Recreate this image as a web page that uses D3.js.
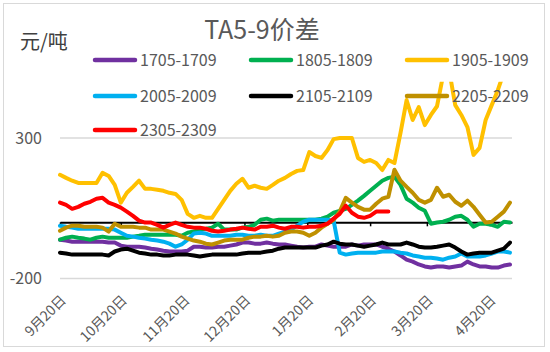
<!DOCTYPE html>
<html lang="zh">
<head>
<meta charset="utf-8">
<title>TA5-9价差</title>
<script src="https://d3js.org/d3.v7.min.js"></script>
<style>
  body { margin: 0; background: #fff; }
  text { font-family: "Noto Sans CJK SC", "Noto Sans", sans-serif; }
</style>
</head>
<body>
<div id="chart"></div>
<script>
// spreads, one reading every 3 days from 9月20日
var s1705 = [-62,-65,-69,-69,-69,-69,-69,-69,-72,-72,
  -83,-87,-87,-87,-90,-94,-97,-101,-104,-104,
  -104,-101,-87,-87,-90,-90,-87,-87,-83,-79,
  -72,-72,-76,-76,-72,-76,-79,-79,-83,-87,
  -90,-87,-87,-79,-83,-87,-87,-87,-79,-83,
  -79,-79,-79,-87,-94,-104,-118,-133,-140,-150,
  -157,-161,-157,-157,-161,-157,-154,-140,-150,-157,
  -157,-161,-161,-154,-150];
var s1805 = [-62,-55,-51,-55,-58,-62,-55,-51,-55,-55,
  -55,-55,-51,-48,-44,-44,-44,-44,-44,-44,
  -48,-37,-33,-26,-23,-19,-5,-26,-26,-26,
  -19,-16,-9,9,13,6,9,9,9,9,
  9,9,9,13,20,34,41,48,62,77,
  94,112,130,148,158,162,133,84,70,52,
  41,-5,-1,2,9,20,23,9,-16,-5,
  -5,-9,-16,2,-1];
var s1905 = [169,158,148,140,140,140,140,176,165,133,
  70,105,126,148,119,119,116,112,105,101,
  80,30,16,23,16,16,48,80,112,137,
  155,123,130,123,119,133,148,158,172,183,
  186,250,236,229,257,296,300,300,300,229,
  215,222,211,186,222,211,318,435,364,410,
  346,382,413,523,541,417,382,339,240,265,
  364,417,470,534,577];
var s2005 = [-12,-16,-19,-23,-23,-23,-23,-23,-23,-26,
  -37,-48,-51,-55,-58,-62,-65,-69,-76,-87,
  -79,-62,-40,-37,-40,-48,-48,-48,-48,-44,
  -44,-48,-48,-44,-48,-48,-40,-33,-26,-12,
  2,9,9,9,9,6,-108,-115,-111,-108,
  -108,-108,-108,-104,-104,-104,-108,-111,-118,-122,
  -126,-126,-129,-133,-126,-122,-111,-122,-122,-122,
  -118,-111,-104,-104,-108];
var s2105 = [-108,-111,-115,-115,-115,-115,-115,-115,-118,-104,
  -97,-94,-101,-108,-111,-115,-115,-118,-118,-115,
  -115,-115,-118,-122,-118,-115,-115,-115,-115,-115,
  -111,-108,-108,-108,-104,-101,-94,-90,-90,-90,
  -90,-90,-90,-83,-79,-69,-76,-79,-79,-83,
  -87,-83,-79,-72,-79,-79,-79,-72,-79,-87,
  -90,-90,-87,-83,-79,-90,-104,-115,-111,-108,
  -108,-108,-101,-94,-72];
var s2205 = [-30,-19,-12,-12,-16,-16,-16,-19,-33,-5,
  -16,-16,-16,-19,-19,-26,-26,-26,-33,-40,
  -51,-58,-65,-69,-76,-79,-72,-65,-62,-62,
  -62,-55,-51,-51,-48,-51,-48,-37,-33,-33,
  -37,-48,-37,-19,-5,9,38,87,70,55,
  45,45,66,84,91,187,148,126,105,80,
  70,80,123,91,98,73,59,77,55,27,
  -1,2,20,38,70];
var s2305 = [70,62,48,55,66,73,84,87,70,62,
  52,38,23,6,-1,-1,-9,-19,-9,-1,
  -9,-16,-19,-19,-23,-30,-33,-30,-26,-23,
  -19,-23,-26,-16,-16,-12,-19,-23,-16,-16,
  -19,-16,-16,-12,-5,13,30,59,34,20,
  16,23,38,38,38];

var seriesNames = ["1705-1709", "1805-1809", "1905-1909", "2005-2009", "2105-2109", "2205-2209", "2305-2309"];
var seriesValues = [s1705, s1805, s1905, s2005, s2105, s2205, s2305];
var seriesColors = ["#7030A0", "#00B050", "#FFC000", "#00B0F0", "#000000", "#BF9000", "#FF0000"];

var tickDates = ["2022-09-20", "2022-10-20", "2022-11-20", "2022-12-20", "2023-01-20", "2023-02-20", "2023-03-20", "2023-04-20"];
var tickLabels = ["9月20日", "10月20日", "11月20日", "12月20日", "1月20日", "2月20日", "3月20日", "4月20日"];
var yTicks = [-200, 300];

var width = 550, height = 352;
var parse = d3.timeParse("%Y-%m-%d");
var startDay = parse("2022-09-20");

var svg = d3.select("#chart").append("svg")
    .attr("width", width)
    .attr("height", height);

// chart frame
svg.append("rect")
    .attr("x", 3.5).attr("y", 3.5)
    .attr("width", 541).attr("height", 343)
    .attr("fill", "#fff")
    .attr("stroke", "#D9D9D9");

var x = d3.scaleTime()
    .domain([startDay, parse("2023-05-01")])
    .range([60, 512]);

var y = d3.scaleLinear()
    .domain([-200, 500])
    .range([278.5, 81.8]);

// gridlines + y labels
svg.selectAll(".grid")
  .data(yTicks)
  .enter().append("line")
    .attr("x1", 60).attr("x2", 512)
    .attr("y1", function(d){ return y(d) })
    .attr("y2", function(d){ return y(d) })
    .attr("stroke", "#D9D9D9")
    .attr("stroke-width", 1.3);

svg.selectAll(".ylab")
  .data(yTicks)
  .enter().append("text")
    .attr("x", 42)
    .attr("y", function(d){ return y(d) })
    .attr("dy", "0.35em")
    .attr("text-anchor", "end")
    .attr("fill", "#595959")
    .style("font-size", "16px")
    .text(function(d){ return d });

// x axis sits on zero
var xAxis = svg.append("g")
    .attr("transform", "translate(0," + y(0) + ")")
    .call(d3.axisBottom(x)
      .tickValues(tickDates.map(parse))
      .tickSize(4)
      .tickSizeOuter(0)
      .tickFormat(""));
xAxis.select(".domain").attr("stroke", "#000").attr("stroke-width", 2);
xAxis.selectAll(".tick line").attr("stroke", "#000").attr("stroke-width", 1.5);

// rotated date labels at the bottom
svg.selectAll(".xlab")
  .data(tickDates)
  .enter().append("text")
    .attr("transform", function(d){
      return "translate(" + (x(parse(d)) + 7) + ",301) rotate(-45)";
    })
    .attr("text-anchor", "end")
    .attr("fill", "#595959")
    .style("font-size", "14px")
    .text(function(d, i){ return tickLabels[i] });

// lines
svg.append("clipPath").attr("id", "plotclip")
  .append("rect")
    .attr("x", 56).attr("y", y(500))
    .attr("width", 462).attr("height", y(-200) - y(500));

var line = d3.line()
    .x(function(d, i){ return x(d3.timeDay.offset(startDay, i * 3)) })
    .y(function(d){ return y(d) });

svg.append("g")
    .attr("clip-path", "url(#plotclip)")
  .selectAll("path")
  .data(seriesValues)
  .enter().append("path")
    .attr("fill", "none")
    .attr("stroke", function(d, i){ return seriesColors[i] })
    .attr("stroke-width", 4)
    .attr("stroke-linejoin", "round")
    .attr("stroke-linecap", "round")
    .attr("d", line);

// titles
svg.append("text")
    .attr("x", 262).attr("y", 39)
    .attr("text-anchor", "middle")
    .attr("fill", "#595959")
    .style("font-size", "25px")
    .text("TA5-9价差");

svg.append("text")
    .attr("x", 20).attr("y", 49)
    .attr("fill", "#404040")
    .style("font-size", "20px")
    .text("元/吨");

// legend, 3 per row
var legendX = [93, 249, 405], legendY = [60, 96, 130];
var legend = svg.selectAll(".legend")
  .data(seriesNames)
  .enter().append("g")
    .attr("transform", function(d, i){
      return "translate(" + legendX[i % 3] + "," + legendY[Math.floor(i / 3)] + ")";
    });
legend.append("line")
    .attr("x1", 2).attr("x2", 42)
    .attr("stroke", function(d, i){ return seriesColors[i] })
    .attr("stroke-width", 4.5)
    .attr("stroke-linecap", "round");
legend.append("text")
    .attr("x", 47)
    .attr("dy", "0.36em")
    .attr("fill", "#595959")
    .style("font-size", "16px")
    .text(function(d){ return d });
</script>
</body>
</html>
